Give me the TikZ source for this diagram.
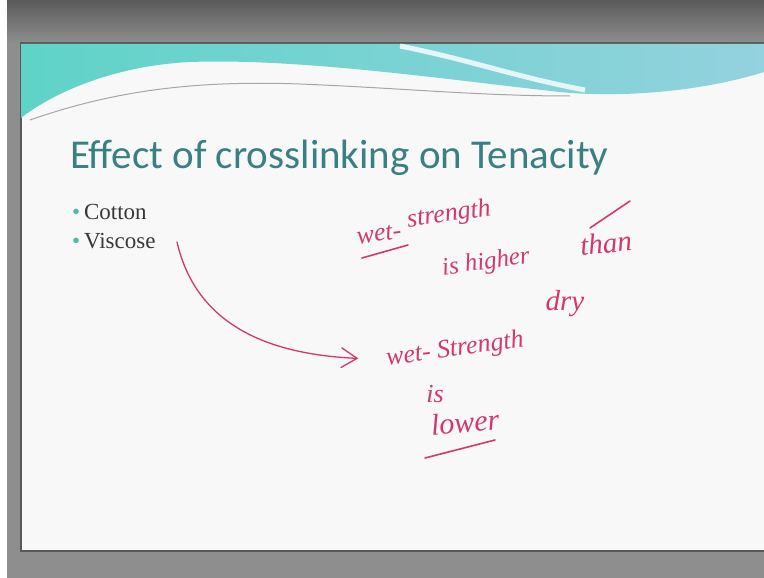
\documentclass[tikz,border=0pt]{standalone}
\usepackage{fontspec}
\setmainfont{Liberation Serif}
\newfontfamily\titlefont{Carlito}
\newfontfamily\handfont{Liberation Serif}
\usetikzlibrary{arrows.meta}
\definecolor{frame}{HTML}{8E8E8E}
\definecolor{frametop}{HTML}{5A5A5A}
\definecolor{slidebg}{HTML}{F8F8F8}
\definecolor{tealA}{HTML}{5FD3C8}
\definecolor{tealB}{HTML}{93D2DE}
\definecolor{titlecol}{HTML}{3A7F82}
\definecolor{bodycol}{HTML}{383838}
\definecolor{ink}{HTML}{D2386C}
\definecolor{bullet}{HTML}{4FB9A8}
\tikzset{
  hand/.style={text=ink, font=\handfont\itshape\fontsize{#1}{#1}\selectfont, inner sep=0pt},
  hand/.default=26,
  stroke/.style={draw=ink, line width=1.6pt, line cap=round},
  bodytext/.style={text=bodycol, font=\fontsize{23}{26}\selectfont, anchor=base west, inner sep=0pt},
}
\begin{document}
\begin{tikzpicture}[x=1pt,y=-1pt]
\useasboundingbox (0,0) rectangle (764,578);
% frame
\fill[frame] (0,0) rectangle (764,578);
\shade[top color=frametop, bottom color=frame] (0,0) rectangle (764,43);
\fill[white] (0,0) rectangle (7,578);
% slide
\fill[slidebg] (21,43) rectangle (764,551);
\draw[black!65, line width=1.5pt] (764,43) -- (21,43) -- (21,551) -- (764,551);
% header wave
\shade[left color=tealA, right color=tealB]
  (21,44) -- (764,44) -- (764,72)
  .. controls (700,92) and (620,98) .. (560,92)
  .. controls (450,80) and (300,58) .. (190,62)
  .. controls (110,66) and (50,95) .. (21,118) -- cycle;
\draw[white, line width=5pt, opacity=0.8] (400,46) .. controls (470,60) and (520,78) .. (585,90);
\draw[gray!70, line width=1pt] (30,120) .. controls (110,92) and (190,80) .. (300,84)
  .. controls (400,88) and (480,96) .. (570,96);
% title
\node[anchor=base west, inner sep=0pt, text=titlecol, font=\titlefont\fontsize{41}{44}\selectfont] (title) at (70,168) {Effect of crosslinking on Tenacity};
% bullets
\node[bodytext] (cotton) at (72,219) {{\color{bullet}\textbullet}\,Cotton};
\node[bodytext] (viscose) at (72,248) {{\color{bullet}\textbullet}\,Viscose};
% handwriting
\node[hand=26, rotate=8] (h1a) at (379,234) {wet-};
\node[hand=26, rotate=8] (h1b) at (449,215) {strength};
\node[hand=25, rotate=8] (h2) at (486,263) {is higher};
\node[hand=29, rotate=5] (h3) at (606,243) {than};
\node[hand=29] (h4) at (565,304) {dry};
\node[hand=26, rotate=8] (h5) at (455,350) {wet- Strength};
\node[hand=26] (h6) at (435,394) {is};
\node[hand=30, rotate=5] (h7) at (465,422) {lower};
\coordinate (u1a) at (362,258); \coordinate (u1b) at (408,245);
\draw[stroke] (u1a) -- (u1b);
\coordinate (u2a) at (425,458); \coordinate (u2b) at (495,440);
\draw[stroke] (u2a) -- (u2b);
\coordinate (ta) at (590,228); \coordinate (tb) at (630,201);
\draw[stroke] (ta) -- (tb);
% arrow
\coordinate (vstart) at (177,242);
\draw[stroke, line width=1.3pt, -{Straight Barb[length=16pt,width=20pt]}, shorten >=28pt]
  (vstart) .. controls (195,320) and (260,354) .. (h5.west);
\end{tikzpicture}
\end{document}
